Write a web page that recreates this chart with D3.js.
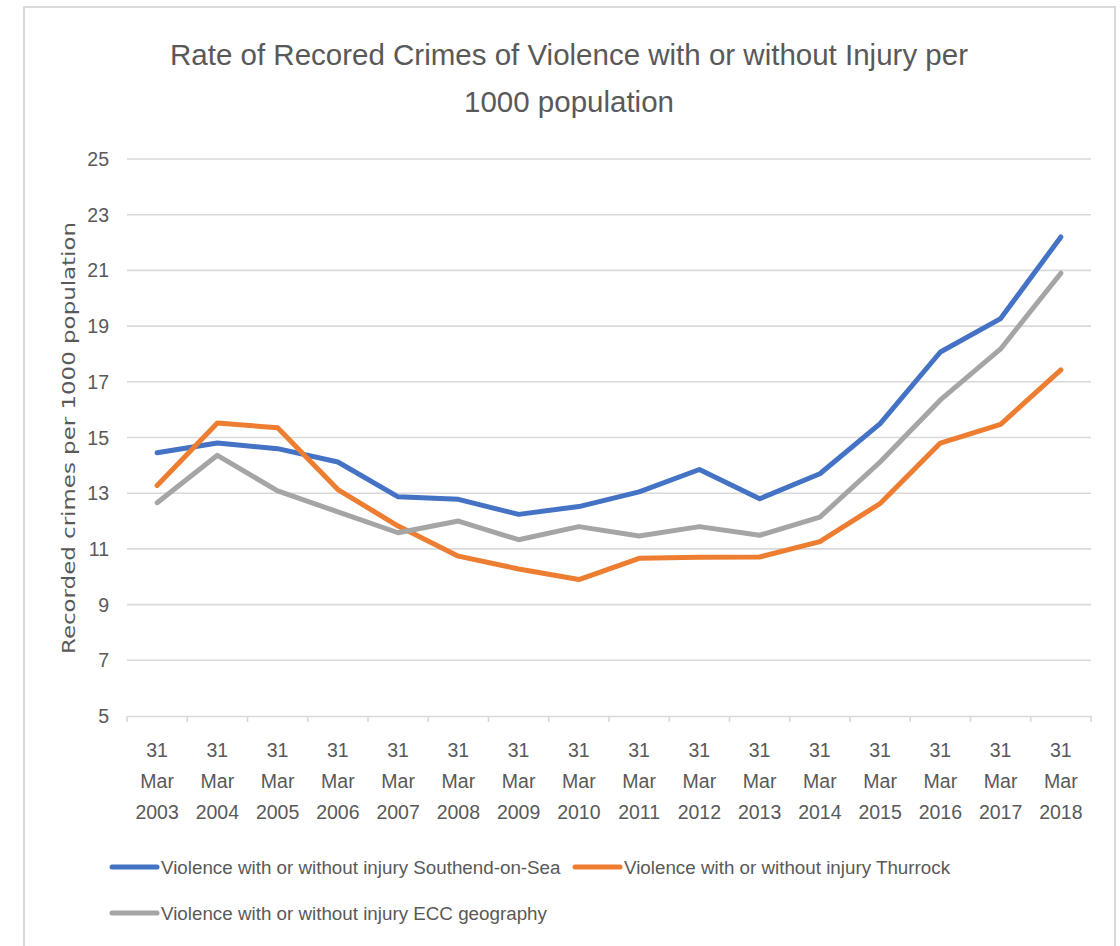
<!DOCTYPE html>
<html>
<head>
<meta charset="utf-8">
<script src="https://cdn.jsdelivr.net/npm/d3@7"></script>
<style>
	body { margin: 0; background: #fff; }
	svg { display: block; }
	text { font-family: 'Liberation Sans Narrow', 'Liberation Sans', Arial, sans-serif; fill: #595959; }
</style>
</head>
<body>
<svg width="1120" height="946"></svg>
<script>
const years = ['2003', '2004', '2005', '2006', '2007', '2008', '2009', '2010',
	'2011', '2012', '2013', '2014', '2015', '2016', '2017', '2018'];

const southend = [14.45, 14.8, 14.6, 14.12, 12.87, 12.78, 12.24, 12.52,
	13.05, 13.85, 12.8, 13.7, 15.5, 18.07, 19.27, 22.2];
const thurrock = [13.28, 15.52, 15.35, 13.13, 11.82, 10.74, 10.28, 9.9,
	10.66, 10.7, 10.71, 11.26, 12.63, 14.8, 15.47, 17.43];
const ecc = [12.66, 14.36, 13.08, 12.33, 11.58, 12.0, 11.33, 11.8,
	11.46, 11.8, 11.49, 12.14, 14.12, 16.35, 18.18, 20.9];

const yTicks = [5, 7, 9, 11, 13, 15, 17, 19, 21, 23, 25];

const series = [
	{name: 'Violence with or without injury Southend-on-Sea', values: southend, color: '#4472c4'},
	{name: 'Violence with or without injury Thurrock', values: thurrock, color: '#ed7d31'},
	{name: 'Violence with or without injury ECC geography', values: ecc, color: '#a5a5a5'}
];

const svg = d3.select('svg');

// chart frame
svg.append('rect')
	.attr('x', 24).attr('y', 7)
	.attr('width', 1091).attr('height', 960)
	.attr('fill', 'none')
	.attr('stroke', '#d9d9d9')
	.attr('stroke-width', 2);

const x = d3.scaleBand().domain(years).range([127, 1091]);
const y = d3.scaleLinear().domain([5, 25]).range([716, 159]);

// title
const title = svg.append('text')
	.attr('text-anchor', 'middle')
	.style('font-size', '29.5px');
title.append('tspan').attr('x', 569).attr('y', 65).text('Rate of Recored Crimes of Violence with or without Injury per');
title.append('tspan').attr('x', 569).attr('y', 112).text('1000 population');

// gridlines
svg.append('g')
	.selectAll('line')
	.data(yTicks.filter(d => d > 5))
	.enter().append('line')
	.attr('x1', 127).attr('x2', 1091)
	.attr('y1', d => y(d)).attr('y2', d => y(d))
	.attr('stroke', '#d9d9d9')
	.attr('stroke-width', 1.6);

// y axis labels
svg.append('g')
	.selectAll('text')
	.data(yTicks)
	.enter().append('text')
	.attr('x', 109)
	.attr('y', d => y(d) + 7)
	.attr('text-anchor', 'end')
	.style('font-size', '19.5px')
	.text(d => d);

// x axis
const xAxis = svg.append('g')
	.attr('transform', 'translate(0,716)')
	.call(d3.axisBottom(x).tickSize(0).tickFormat(''));
xAxis.select('.domain').attr('stroke', '#d9d9d9').attr('stroke-width', 1.6);
xAxis.selectAll('.tick').remove();

xAxis.selectAll('line.sep')
	.data(years.concat(['end']))
	.enter().append('line')
	.attr('class', 'sep')
	.attr('x1', (d, i) => x.range()[0] + i * x.step())
	.attr('x2', (d, i) => x.range()[0] + i * x.step())
	.attr('y1', 0).attr('y2', 6)
	.attr('stroke', '#d9d9d9')
	.attr('stroke-width', 1.6);

const xLabel = svg.append('g')
	.selectAll('text')
	.data(years)
	.enter().append('text')
	.attr('text-anchor', 'middle')
	.style('font-size', '19.5px');
['31', 'Mar', null].forEach((line, i) => {
	xLabel.append('tspan')
		.attr('x', d => x(d) + x.bandwidth() / 2)
		.attr('y', 757 + i * 31)
		.text(d => line || d);
});

// y axis title
svg.append('text')
	.attr('transform', 'translate(75,438) rotate(-90)')
	.attr('text-anchor', 'middle')
	.style('font-family', "'DejaVu Sans', Verdana, sans-serif")
	.style('font-size', '18px')
	.attr('textLength', 432)
	.attr('lengthAdjust', 'spacingAndGlyphs')
	.text('Recorded crimes per 1000 population');

// lines
const line = d3.line()
	.x((d, i) => x(years[i]) + x.bandwidth() / 2)
	.y(d => y(d));

svg.append('g')
	.selectAll('path')
	.data(series)
	.enter().append('path')
	.attr('d', d => line(d.values))
	.attr('fill', 'none')
	.attr('stroke', d => d.color)
	.attr('stroke-width', 5)
	.attr('stroke-linejoin', 'round')
	.attr('stroke-linecap', 'round');

// legend
const legendPos = [{x: 112, y: 867}, {x: 575, y: 867}, {x: 112, y: 913}];
const legend = svg.append('g')
	.selectAll('g')
	.data(series)
	.enter().append('g')
	.attr('transform', (d, i) => `translate(${legendPos[i].x},${legendPos[i].y})`);

legend.append('line')
	.attr('x1', 0).attr('x2', 45)
	.attr('stroke', d => d.color)
	.attr('stroke-width', 5)
	.attr('stroke-linecap', 'round');

legend.append('text')
	.attr('x', 49)
	.attr('y', 7)
	.style('font-size', '18.8px')
	.text(d => d.name);
</script>
</body>
</html>
